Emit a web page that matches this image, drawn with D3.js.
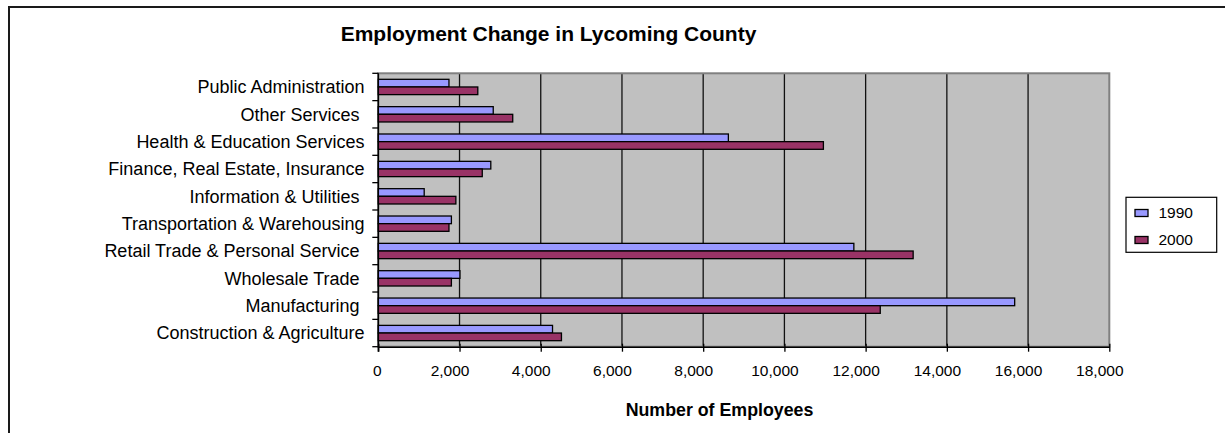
<!DOCTYPE html>
<html>
<head>
<meta charset="utf-8">
<script src="https://cdn.jsdelivr.net/npm/d3@7"></script>
<style>
  html, body { margin: 0; padding: 0; background: #fff; }
  svg { display: block; font-family: "Liberation Sans", Arial, sans-serif; }
  .cat text { white-space: pre; }
</style>
</head>
<body>
<div id="chart"></div>
<script>
// categories, top to bottom as shown (trailing spaces are in the original labels)
const categories = [
  'Public Administration',
  'Other Services ',
  'Health & Education Services',
  'Finance, Real Estate, Insurance',
  'Information & Utilities ',
  'Transportation & Warehousing',
  'Retail Trade & Personal Service ',
  'Wholesale Trade ',
  'Manufacturing ',
  'Construction & Agriculture'
];
const seriesNames = ['1990', '2000'];
const values1990 = [1740, 2830, 8620, 2770, 1130, 1800, 11710, 2010, 15670, 4290];
const values2000 = [2450, 3310, 10960, 2560, 1910, 1740, 13170, 1800, 12360, 4510];
const xTicks = [0, 2000, 4000, 6000, 8000, 10000, 12000, 14000, 16000, 18000];
const colors = ['#9999FF', '#993366'];

const width = 1225, height = 433;
const plot = { left: 378.3, right: 1109.3, top: 73.3, bottom: 346.7 };

const svg = d3.select('#chart').append('svg')
  .attr('width', width)
  .attr('height', height);

// outer chart frame (only top and left edges fall inside the picture)
svg.append('rect')
  .attr('x', 9).attr('y', 7)
  .attr('width', 1300).attr('height', 500)
  .attr('fill', '#fff')
  .attr('stroke', '#1a1a1a')
  .attr('stroke-width', 2);

const x = d3.scaleLinear().domain([0, 18000]).range([plot.left, plot.right]);
const y = d3.scaleBand().domain(categories).range([plot.top, plot.bottom])
  .paddingInner(0.44).paddingOuter(0.22);
const yInner = d3.scaleBand().domain(seriesNames).range([0, y.bandwidth()]);

// plot background
svg.append('rect')
  .attr('x', plot.left).attr('y', plot.top)
  .attr('width', plot.right - plot.left).attr('height', plot.bottom - plot.top)
  .attr('fill', '#C0C0C0');

// gridlines
svg.append('g')
  .selectAll('line')
  .data(xTicks.slice(1, -1))
  .join('line')
  .attr('x1', d => x(d)).attr('x2', d => x(d))
  .attr('y1', plot.top).attr('y2', plot.bottom)
  .attr('stroke', '#111')
  .attr('stroke-width', 1.3);

// plot border
svg.append('rect')
  .attr('x', plot.left).attr('y', plot.top)
  .attr('width', plot.right - plot.left).attr('height', plot.bottom - plot.top)
  .attr('fill', 'none')
  .attr('stroke', '#808080')
  .attr('stroke-width', 2);

// bars
const rows = categories.map((c, i) => ({ cat: c, vals: [values1990[i], values2000[i]] }));
const groups = svg.append('g')
  .selectAll('g')
  .data(rows)
  .join('g')
  .attr('transform', d => `translate(0,${y(d.cat)})`);

groups.selectAll('rect')
  .data(d => d.vals.map((v, j) => ({ key: seriesNames[j], v: v, j: j })))
  .join('rect')
  .attr('x', x(0))
  .attr('y', d => yInner(d.key))
  .attr('width', d => x(d.v) - x(0))
  .attr('height', yInner.bandwidth())
  .attr('fill', d => colors[d.j])
  .attr('stroke', '#000')
  .attr('stroke-width', 1.3);

// x axis
const xAxis = svg.append('g')
  .attr('transform', `translate(0,${plot.bottom})`)
  .call(d3.axisBottom(x).tickValues(xTicks).tickFormat(d3.format(',')).tickSize(5).tickSizeOuter(0).tickPadding(13));
xAxis.select('.domain').attr('stroke', '#000').attr('stroke-width', 1.5);
xAxis.selectAll('.tick line').attr('stroke', '#000').attr('stroke-width', 1.3).attr('y1', -3);
// Excel pads the number labels on the right, so they sit a little left of their ticks
xAxis.selectAll('text')
  .attr('font-size', 15.5)
  .attr('font-family', '"Liberation Sans", Arial, sans-serif')
  .attr('fill', '#000')
  .attr('dx', d => d === 0 ? -1.5 : -10);

// y axis line with ticks on band boundaries
const step = y.step();
const boundaries = d3.range(categories.length + 1).map(i => plot.top + i * step);
svg.append('line')
  .attr('x1', plot.left).attr('x2', plot.left)
  .attr('y1', plot.top).attr('y2', plot.bottom + 5)
  .attr('stroke', '#000').attr('stroke-width', 1.5);
svg.append('g')
  .selectAll('line')
  .data(boundaries)
  .join('line')
  .attr('x1', plot.left - 6).attr('x2', plot.left)
  .attr('y1', d => d).attr('y2', d => d)
  .attr('stroke', '#000').attr('stroke-width', 1.3);

// category labels
svg.append('g')
  .attr('class', 'cat')
  .selectAll('text')
  .data(categories)
  .join('text')
  .attr('x', 364.5)
  .attr('y', d => y(d) + y.bandwidth() / 2)
  .attr('dy', '0.35em')
  .attr('text-anchor', 'end')
  .attr('font-size', 18)
  .attr('xml:space', 'preserve')
  .text(d => d);

// title
svg.append('text')
  .attr('x', 548.5).attr('y', 41)
  .attr('text-anchor', 'middle')
  .attr('font-size', 21)
  .attr('font-weight', 'bold')
  .text('Employment Change in Lycoming County');

// x axis title
svg.append('text')
  .attr('x', 719.5).attr('y', 415.5)
  .attr('text-anchor', 'middle')
  .attr('font-size', 17.8)
  .attr('font-weight', 'bold')
  .text('Number of Employees');

// legend
const legend = svg.append('g');
legend.append('rect')
  .attr('x', 1126).attr('y', 197.3)
  .attr('width', 90.7).attr('height', 55)
  .attr('fill', '#fff')
  .attr('stroke', '#000')
  .attr('stroke-width', 1.2);
const items = legend.selectAll('g')
  .data(seriesNames)
  .join('g')
  .attr('transform', (d, i) => `translate(1135,${213 + i * 27})`);
items.append('rect')
  .attr('x', 0).attr('y', -3.5)
  .attr('width', 13).attr('height', 7)
  .attr('fill', (d, i) => colors[i])
  .attr('stroke', '#000')
  .attr('stroke-width', 1.3);
items.append('text')
  .attr('x', 23.5).attr('y', 0)
  .attr('dy', '0.35em')
  .attr('font-size', 15.5)
  .text(d => d);
</script>
</body>
</html>
